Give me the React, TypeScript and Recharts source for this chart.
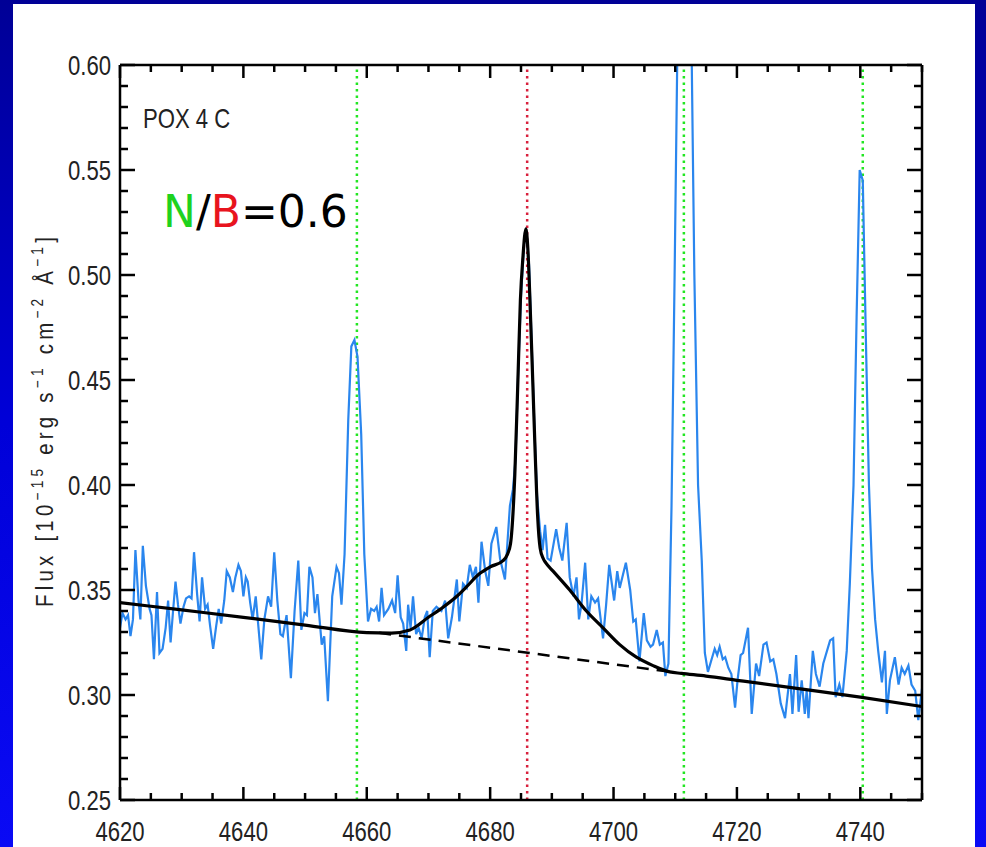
import { LineChart, Line, XAxis, YAxis, ReferenceLine } from 'recharts'

// observed spectrum (wavelength in Å, flux in 1e-15 erg/s/cm2/Å)
const specWave = [
  4620.0, 4620.4, 4620.9, 4621.3, 4621.7, 4622.1, 4622.5, 4623.0, 4623.3, 4623.7, 4624.2, 4624.8, 4625.1, 4625.5,
  4626.0, 4626.4, 4626.9, 4627.4, 4627.8, 4628.2, 4628.6, 4629.0, 4629.4, 4629.8, 4630.3, 4630.7, 4631.2, 4631.6,
  4632.0, 4632.5, 4632.9, 4633.3, 4633.8, 4634.2, 4634.6, 4635.1, 4635.6, 4636.0, 4636.4, 4636.9, 4637.3, 4637.8,
  4638.3, 4638.7, 4639.2, 4639.6, 4640.0, 4640.4, 4640.7, 4641.1, 4641.5, 4642.0, 4642.9, 4643.4, 4644.0, 4644.5,
  4645.0, 4645.5, 4646.0, 4646.4, 4647.0, 4647.7, 4648.3, 4648.9, 4649.4, 4649.9, 4650.3, 4650.7, 4651.2, 4651.6,
  4652.0, 4652.7, 4653.1, 4653.7, 4654.4, 4655.1, 4655.5, 4655.9, 4656.4, 4657.0, 4657.5, 4658.0, 4658.5, 4659.1,
  4659.6, 4660.2, 4660.7, 4661.2, 4661.6, 4662.0, 4662.4, 4662.8, 4663.5, 4664.1, 4664.6, 4665.0, 4665.5, 4665.9,
  4666.4, 4666.7, 4667.1, 4667.5, 4668.0, 4668.4, 4668.9, 4669.4, 4669.8, 4670.2, 4670.7, 4671.3, 4672.1, 4672.7,
  4673.2, 4673.8, 4674.6, 4675.0, 4675.6, 4676.2, 4676.7, 4677.2, 4677.7, 4678.1, 4678.6, 4679.2, 4679.7, 4680.2,
  4681.0, 4681.6, 4682.4, 4683.2, 4683.7, 4684.1, 4684.5, 4685.0, 4685.5, 4685.9, 4686.3, 4686.7, 4687.2, 4687.6,
  4688.1, 4688.5, 4688.9, 4689.3, 4689.8, 4690.7, 4691.2, 4691.7, 4692.4, 4692.9, 4693.5, 4694.0, 4694.4, 4694.8,
  4695.4, 4695.9, 4696.4, 4697.0, 4697.5, 4698.3, 4698.8, 4699.3, 4700.1, 4700.6, 4701.0, 4702.0, 4702.7, 4703.2,
  4703.6, 4704.2, 4704.9, 4705.4, 4706.0, 4706.4, 4707.0, 4707.5, 4708.0, 4708.4, 4708.9, 4709.4, 4709.9, 4710.4,
  4710.9, 4711.5, 4712.1, 4712.6, 4713.1, 4713.7, 4714.3, 4714.8, 4715.3, 4715.9, 4716.4, 4716.8, 4717.2, 4717.7,
  4718.1, 4718.6, 4719.1, 4719.7, 4720.1, 4720.6, 4721.0, 4721.8, 4722.4, 4723.1, 4723.6, 4724.3, 4724.8, 4725.4,
  4725.9, 4726.4, 4727.1, 4727.8, 4728.6, 4729.0, 4729.6, 4730.0, 4730.5, 4731.0, 4731.3, 4731.6, 4732.3, 4732.8,
  4733.4, 4734.0, 4735.1, 4735.6, 4736.0, 4736.6, 4737.1, 4737.8, 4738.3, 4738.9, 4739.4, 4739.9, 4740.4, 4740.9,
  4741.4, 4741.9, 4742.4, 4742.9, 4743.5, 4744.0, 4744.3, 4744.8, 4745.6, 4746.2, 4746.7, 4747.2, 4747.8, 4748.3,
  4748.9, 4749.4, 4750.0,
]
const specFlux = [
  0.332, 0.339, 0.336, 0.338, 0.328, 0.336, 0.369, 0.345, 0.336, 0.371, 0.352, 0.341, 0.338, 0.317,
  0.349, 0.320, 0.322, 0.332, 0.345, 0.325, 0.340, 0.354, 0.343, 0.334, 0.342, 0.346, 0.347, 0.346,
  0.368, 0.348, 0.335, 0.356, 0.341, 0.343, 0.333, 0.322, 0.333, 0.341, 0.334, 0.345, 0.359, 0.356,
  0.349, 0.356, 0.362, 0.359, 0.347, 0.356, 0.354, 0.344, 0.336, 0.347, 0.317, 0.336, 0.347, 0.342,
  0.368, 0.345, 0.329, 0.328, 0.338, 0.308, 0.340, 0.364, 0.331, 0.339, 0.338, 0.361, 0.356, 0.339,
  0.348, 0.324, 0.328, 0.297, 0.347, 0.361, 0.358, 0.343, 0.367, 0.431, 0.466, 0.469, 0.461, 0.424,
  0.367, 0.335, 0.341, 0.340, 0.342, 0.335, 0.351, 0.338, 0.341, 0.345, 0.339, 0.357, 0.337, 0.334,
  0.321, 0.343, 0.332, 0.347, 0.329, 0.332, 0.327, 0.337, 0.340, 0.318, 0.340, 0.342, 0.340, 0.345,
  0.327, 0.337, 0.355, 0.335, 0.353, 0.351, 0.362, 0.356, 0.361, 0.344, 0.373, 0.359, 0.352, 0.372,
  0.380, 0.365, 0.355, 0.390, 0.398, 0.412, 0.450, 0.490, 0.515, 0.520, 0.505, 0.470, 0.425, 0.395,
  0.378, 0.369, 0.381, 0.365, 0.364, 0.379, 0.370, 0.364, 0.382, 0.356, 0.347, 0.356, 0.336, 0.343,
  0.363, 0.336, 0.347, 0.344, 0.346, 0.327, 0.343, 0.362, 0.345, 0.359, 0.351, 0.363, 0.350, 0.335,
  0.336, 0.316, 0.339, 0.326, 0.323, 0.324, 0.331, 0.324, 0.325, 0.309, 0.315, 0.390, 0.500, 0.620,
  0.740, 0.790, 0.740, 0.620, 0.500, 0.400, 0.364, 0.320, 0.311, 0.317, 0.322, 0.319, 0.323, 0.317,
  0.318, 0.313, 0.310, 0.294, 0.307, 0.319, 0.320, 0.332, 0.291, 0.315, 0.309, 0.324, 0.325, 0.316,
  0.317, 0.310, 0.296, 0.289, 0.310, 0.291, 0.319, 0.292, 0.307, 0.291, 0.302, 0.289, 0.321, 0.310,
  0.304, 0.315, 0.326, 0.327, 0.299, 0.305, 0.299, 0.321, 0.353, 0.400, 0.480, 0.550, 0.545, 0.470,
  0.400, 0.360, 0.336, 0.321, 0.306, 0.321, 0.291, 0.307, 0.318, 0.305, 0.313, 0.310, 0.314, 0.305,
  0.302, 0.288, 0.303,
]

// continuum + broad + narrow He II fit
const fitWave = [
  4620, 4630, 4640, 4650, 4660, 4664, 4667, 4670, 4672, 4674.6, 4676, 4678.3, 4680, 4682.1, 4682.8, 4683.3,
  4684.0, 4684.5, 4684.9, 4685.3, 4685.8, 4686.1, 4686.45, 4686.9, 4687.3, 4687.7, 4688.1, 4688.6, 4689.0,
  4690.2, 4692.9, 4695.6, 4698.3, 4701.0, 4703.7, 4706.4, 4709.1, 4711.0, 4715, 4720, 4730, 4740, 4750,
]
const fitFlux = [
  0.344, 0.3405, 0.337, 0.3333, 0.3297, 0.3295, 0.331, 0.337, 0.341, 0.347, 0.351, 0.3578, 0.361, 0.364, 0.367, 0.372,
  0.405, 0.45, 0.488, 0.508, 0.522, 0.513, 0.488, 0.45, 0.415, 0.385, 0.370, 0.365, 0.363,
  0.359, 0.350, 0.340, 0.332, 0.324, 0.318, 0.314, 0.311, 0.3103, 0.309, 0.307, 0.303, 0.299, 0.2945,
]

// continuum under the line
const contWave = [4662, 4710]
const contFlux = [0.3296, 0.3107]

const greenLines = [4658.4, 4711.4, 4740.4]
const redLines = [4686.0]

const xTicks = [
  4620, 4625, 4630, 4635, 4640, 4645, 4650, 4655, 4660, 4665, 4670, 4675, 4680, 4685,
  4690, 4695, 4700, 4705, 4710, 4715, 4720, 4725, 4730, 4735, 4740, 4745, 4750,
]
const yTicks = [
  0.25, 0.26, 0.27, 0.28, 0.29, 0.3, 0.31, 0.32, 0.33, 0.34, 0.35, 0.36, 0.37, 0.38, 0.39, 0.4, 0.41, 0.42,
  0.43, 0.44, 0.45, 0.46, 0.47, 0.48, 0.49, 0.5, 0.51, 0.52, 0.53, 0.54, 0.55, 0.56, 0.57, 0.58, 0.59, 0.6,
]

const specData = specWave.map((w, i) => ({ w, f: specFlux[i] }))
const fitData = fitWave.map((w, i) => ({ w, f: fitFlux[i] }))
const contData = contWave.map((w, i) => ({ w, f: contFlux[i] }))

const FONT = '"Liberation Sans", Arial, sans-serif'
const NARROW = 0.82
const TICK_W = 2.5

const isMajorX = (v: number) => v % 20 === 0
const isMajorY = (v: number) => Math.round(v * 100) % 5 === 0

const BottomTick = ({ x, y, payload }: any) => {
  const major = isMajorX(payload.value)
  return (
    <g>
      <line x1={x} x2={x} y1={y} y2={y - (major ? 13 : 7)} stroke="#000" strokeWidth={TICK_W} />
      {major && (
        <text
          transform={`translate(${x} ${y + 41}) scale(${NARROW} 1)`}
          textAnchor="middle"
          fontSize={27}
          fontFamily={FONT}
          fill="#222"
        >
          {payload.value}
        </text>
      )}
    </g>
  )
}

const TopTick = ({ x, y, payload }: any) => {
  const major = isMajorX(payload.value)
  return <line x1={x} x2={x} y1={y} y2={y + (major ? 13 : 7)} stroke="#000" strokeWidth={TICK_W} />
}

const LeftTick = ({ x, y, payload }: any) => {
  const major = isMajorY(payload.value)
  return (
    <g>
      <line x1={x} x2={x + (major ? 15 : 8)} y1={y} y2={y} stroke="#000" strokeWidth={TICK_W} />
      {major && (
        <text
          transform={`translate(${x - 9} ${y + 10}) scale(${NARROW} 1)`}
          textAnchor="end"
          fontSize={27}
          fontFamily={FONT}
          fill="#222"
        >
          {payload.value.toFixed(2)}
        </text>
      )}
    </g>
  )
}

const RightTick = ({ x, y, payload }: any) => {
  const major = isMajorY(payload.value)
  return <line x1={x} x2={x - (major ? 15 : 8)} y1={y} y2={y} stroke="#000" strokeWidth={TICK_W} />
}

export default function App() {
  const axisLine = { stroke: '#000', strokeWidth: TICK_W }
  return (
    <div style={{ position: 'absolute', left: 0, top: 0, width: 986, height: 847, overflow: 'hidden',
      background: 'linear-gradient(180deg, #000096 0%, #0000d8 50%, #0a0af5 100%)' }}>
      <div style={{ position: 'absolute', left: 13, top: 4, width: 962, height: 843, background: '#fff' }} />
      <div style={{ position: 'absolute', left: 0, top: 0 }}>
        <LineChart width={986} height={847} data={specData} margin={{ top: 60, right: 60, bottom: 7, left: 60 }}>
          <XAxis
            dataKey="w"
            type="number"
            domain={[4620, 4750]}
            ticks={xTicks}
            interval={0}
            height={40}
            tickSize={0}
            tickMargin={0}
            tickLine={false}
            axisLine={axisLine}
            tick={<BottomTick />}
            allowDataOverflow
          />
          <XAxis
            xAxisId="top"
            orientation="top"
            dataKey="w"
            type="number"
            domain={[4620, 4750]}
            ticks={xTicks}
            interval={0}
            height={5}
            tickSize={0}
            tickMargin={0}
            tickLine={false}
            axisLine={axisLine}
            tick={<TopTick />}
            allowDataOverflow
          />
          <YAxis
            type="number"
            domain={[0.25, 0.6]}
            ticks={yTicks}
            interval={0}
            width={60}
            tickSize={0}
            tickMargin={0}
            tickLine={false}
            axisLine={axisLine}
            tick={<LeftTick />}
            allowDataOverflow
          />
          <YAxis
            yAxisId="right"
            orientation="right"
            type="number"
            domain={[0.25, 0.6]}
            ticks={yTicks}
            interval={0}
            width={4}
            tickSize={0}
            tickMargin={0}
            tickLine={false}
            axisLine={axisLine}
            tick={<RightTick />}
            allowDataOverflow
          />
          {greenLines.map((w) => (
            <ReferenceLine key={w} x={w} stroke="#22e622" strokeWidth={2.5} strokeDasharray="2.5 4" />
          ))}
          {redLines.map((w) => (
            <ReferenceLine key={w} x={w} stroke="#d8203c" strokeWidth={2.5} strokeDasharray="2.5 4" />
          ))}
          <Line
            data={specData}
            dataKey="f"
            type="linear"
            stroke="#2a86ee"
            strokeWidth={2.2}
            dot={false}
            isAnimationActive={false}
          />
          <Line
            data={contData}
            dataKey="f"
            type="linear"
            stroke="#000"
            strokeWidth={2.5}
            strokeDasharray="12 8"
            dot={false}
            isAnimationActive={false}
          />
          <Line
            data={fitData}
            dataKey="f"
            type="monotone"
            stroke="#000"
            strokeWidth={3.2}
            dot={false}
            isAnimationActive={false}
          />
        </LineChart>
      </div>
      <svg width={986} height={847} style={{ position: 'absolute', left: 0, top: 0, pointerEvents: 'none' }}>
        <text
          transform={`translate(143 128) scale(${NARROW} 1)`}
          fontSize={27}
          fontFamily={FONT}
          fill="#222"
        >
          POX 4 C
        </text>
        <text x={163} y={227} fontSize={44} fontFamily='"DejaVu Sans", sans-serif'>
          <tspan fill="#1ed21e">N</tspan>
          <tspan fill="#000">/</tspan>
          <tspan fill="#e8141e">B</tspan>
          <tspan fill="#000">=0.6</tspan>
        </text>
        <text
          transform="translate(53 420) rotate(-90) scale(0.85 1)"
          textAnchor="middle"
          fontSize={24}
          fontFamily={FONT}
          fill="#222"
          letterSpacing={5}
        >
          Flux [10<tspan fontSize={16} dy={-10}>−15</tspan>
          <tspan dy={10}> erg s</tspan>
          <tspan fontSize={16} dy={-10}>−1</tspan>
          <tspan dy={10}> cm</tspan>
          <tspan fontSize={16} dy={-10}>−2</tspan>
          <tspan dy={10}> Å</tspan>
          <tspan fontSize={16} dy={-10}>−1</tspan>
          <tspan dy={10}>]</tspan>
        </text>
      </svg>
    </div>
  )
}
